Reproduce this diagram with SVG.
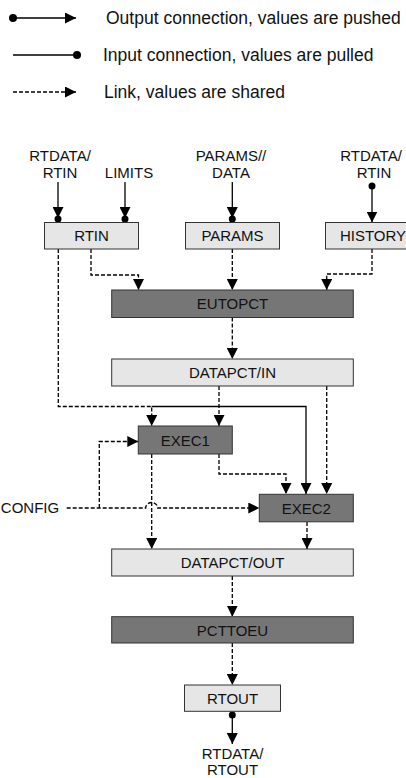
<svg xmlns="http://www.w3.org/2000/svg" width="406" height="778" viewBox="0 0 406 778">
<defs>
<marker id="arr" markerUnits="userSpaceOnUse" markerWidth="12" markerHeight="11" refX="11" refY="5.5" orient="auto"><path d="M0,0 L11,5.5 L0,11 z" fill="#000"/></marker>
<style>
.t{font-family:"Liberation Sans",Arial,sans-serif;font-size:15px;fill:#111;text-anchor:middle}
.lg{font-family:"Liberation Sans",Arial,sans-serif;font-size:17.5px;fill:#111}
.lt{fill:#e6e6e6;stroke:#333;stroke-width:1}
.dk{fill:#767676;stroke:#333;stroke-width:1}
.s{fill:none;stroke:#000;stroke-width:1.3}
.d{fill:none;stroke:#000;stroke-width:1.3;stroke-dasharray:4,2}
.dot{fill:#000}
</style>
</defs>
<g id="legend">
<circle class="dot" cx="13" cy="18" r="4"/>
<path class="s" d="M13,18 H76" marker-end="url(#arr)"/>
<text class="lg" x="106" y="24">Output connection, values are pushed</text>
<path class="s" d="M13,55 H77"/>
<circle class="dot" cx="77" cy="55" r="4"/>
<text class="lg" x="103" y="61">Input connection, values are pulled</text>
<path class="d" d="M13,92 H76" marker-end="url(#arr)"/>
<text class="lg" x="104" y="98">Link, values are shared</text>
</g>
<g id="labels">
<text class="t" x="60" y="161">RTDATA/</text>
<text class="t" x="60" y="178">RTIN</text>
<text class="t" x="129" y="178">LIMITS</text>
<text class="t" x="231" y="161">PARAMS//</text>
<text class="t" x="231" y="178">DATA</text>
<text class="t" x="371" y="161">RTDATA/</text>
<text class="t" x="374" y="178">RTIN</text>
<text class="t" x="30" y="513">CONFIG</text>
<text class="t" x="232.5" y="759">RTDATA/</text>
<text class="t" x="232.5" y="775">RTOUT</text>
</g>
<g id="connectors">
<path class="s" d="M58,182 V218" marker-end="url(#arr)"/>
<circle class="dot" cx="58" cy="219" r="3.5"/>
<path class="s" d="M125,182 V218" marker-end="url(#arr)"/>
<circle class="dot" cx="125" cy="219" r="3.5"/>
<path class="s" d="M232.3,182 V218" marker-end="url(#arr)"/>
<circle class="dot" cx="232.3" cy="219" r="3.5"/>
<circle class="dot" cx="372" cy="186" r="3.5"/>
<path class="s" d="M372,186 V222.5" marker-end="url(#arr)"/>
<path class="d" d="M91,249 V275 H138.5 V290" marker-end="url(#arr)"/>
<path class="d" d="M232.3,249 V290" marker-end="url(#arr)"/>
<path class="d" d="M372,249 V274 H326.7 V290" marker-end="url(#arr)"/>
<path class="d" d="M232.3,317.5 V359" marker-end="url(#arr)"/>
<path class="d" d="M58.3,249 V406.5 H151.7 V426" marker-end="url(#arr)"/>
<path class="s" d="M151.7,406.5 H306 V494" marker-end="url(#arr)" stroke-width="1"/>
<path class="d" d="M219,386 V426" marker-end="url(#arr)"/>
<path class="d" d="M326.7,386 V494" marker-end="url(#arr)"/>
<path class="d" d="M219,454 V474 H286 V494" marker-end="url(#arr)"/>
<path class="d" d="M66.7,508 H145.7 A6,5.5 0 0 1 157.7,508 H259.3" marker-end="url(#arr)"/>
<path class="d" d="M99.3,508 V441.5 H138.3" marker-end="url(#arr)"/>
<path class="d" d="M151.7,454 V549" marker-end="url(#arr)"/>
<path class="d" d="M307,522 V549" marker-end="url(#arr)"/>
<path class="d" d="M232.3,576 V616.7" marker-end="url(#arr)"/>
<path class="d" d="M232.3,643 V685" marker-end="url(#arr)"/>
<circle class="dot" cx="232.3" cy="715" r="3.5"/>
<path class="s" d="M232.3,715 V744" marker-end="url(#arr)"/>
</g>
<g id="RTIN"><rect class="lt" x="44.5" y="222.5" width="94" height="26.5"/><text class="t" x="91.5" y="241">RTIN</text></g>
<g id="PARAMS"><rect class="lt" x="185.5" y="222.5" width="94" height="26.5"/><text class="t" x="232.5" y="241">PARAMS</text></g>
<g id="HISTORY"><rect class="lt" x="325.5" y="222.5" width="94" height="26.5"/><text class="t" x="373" y="241">HISTORY</text></g>
<g id="EUTOPCT"><rect class="dk" x="111.7" y="290" width="241.6" height="27.5"/><text class="t" x="232.5" y="309">EUTOPCT</text></g>
<g id="DATAPCT_IN"><rect class="lt" x="111.7" y="359" width="241.6" height="27"/><text class="t" x="232.5" y="377.5">DATAPCT/IN</text></g>
<g id="EXEC1"><rect class="dk" x="138.3" y="426" width="94" height="28"/><text class="t" x="185.3" y="445.5">EXEC1</text></g>
<g id="EXEC2"><rect class="dk" x="259.3" y="494.3" width="94" height="27.5"/><text class="t" x="306.3" y="513.5">EXEC2</text></g>
<g id="DATAPCT_OUT"><rect class="lt" x="111.7" y="549" width="241.6" height="27"/><text class="t" x="232.5" y="567.5">DATAPCT/OUT</text></g>
<g id="PCTTOEU"><rect class="dk" x="111.7" y="616.7" width="241.6" height="26.3"/><text class="t" x="232.5" y="635.5">PCTTOEU</text></g>
<g id="RTOUT"><rect class="lt" x="184.5" y="685" width="96" height="26.3"/><text class="t" x="232.5" y="703.5">RTOUT</text></g>
</svg>
